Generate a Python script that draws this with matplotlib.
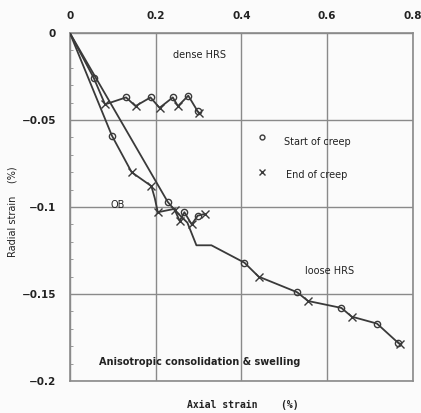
import matplotlib
matplotlib.use("Agg")
import matplotlib.pyplot as plt
from matplotlib.ticker import MultipleLocator

# dense HRS path (axial %, radial %), marker: o = start of creep, x = end of creep, "" = none
dense_x = [0.0, 0.056, 0.082, 0.131, 0.153, 0.188, 0.209, 0.240, 0.252, 0.276, 0.298, 0.302]
dense_y = [0.0, -0.026, -0.041, -0.037, -0.042, -0.037, -0.043, -0.037, -0.042, -0.036, -0.045, -0.046]
dense_m = ["", "o", "x", "o", "x", "o", "x", "o", "x", "o", "o", "x"]

# OB path
ob_x = [0.0, 0.098, 0.144, 0.190, 0.198, 0.205, 0.245]
ob_y = [0.0, -0.059, -0.080, -0.088, -0.095, -0.103, -0.101]
ob_m = ["", "o", "x", "x", "", "x", ""]

# loose HRS path
loose_x = [0.0, 0.228, 0.245, 0.274, 0.295, 0.330, 0.407, 0.440, 0.530, 0.555,
           0.633, 0.657, 0.716, 0.765, 0.770]
loose_y = [0.0, -0.097, -0.102, -0.109, -0.122, -0.122, -0.132, -0.140, -0.149, -0.154,
           -0.158, -0.163, -0.167, -0.178, -0.179]
loose_m = ["", "o", "x", "", "", "", "o", "x", "o", "x", "o", "x", "o", "o", "x"]

# creep cycles on the loose specimen
cyc_x = [0.245, 0.256, 0.267, 0.284, 0.298, 0.314]
cyc_y = [-0.102, -0.108, -0.103, -0.110, -0.105, -0.104]
cyc_m = ["", "x", "o", "x", "o", "x"]

x_ticks = [0, 0.2, 0.4, 0.6, 0.8]
x_labels = ["0", "0.2", "0.4", "0.6", "0.8"]
y_ticks = [0, -0.05, -0.1, -0.15, -0.2]
y_labels = ["0", "\u22120.05", "\u22120.1", "\u22120.15", "\u22120.2"]

INK = "#3a3a3a"
GRID = "#8a8a8a"

fig = plt.figure(figsize=(4.21, 4.13), dpi=100)
fig.patch.set_facecolor("#fbfbfb")
ax = fig.add_axes([0.166, 0.0775, 0.815, 0.8425])
ax.set_facecolor("#fbfbfb")


def draw_path(xs, ys, ms):
    ax.plot(xs, ys, color=INK, lw=1.3, zorder=3)
    for x, y, m in zip(xs, ys, ms):
        if m == "o":
            ax.plot(x, y, "o", ms=4.5, mfc="none", mec=INK, mew=1.0, zorder=4)
        elif m == "x":
            ax.plot(x, y, "x", ms=5.5, color=INK, mew=1.0, zorder=4)


draw_path(dense_x, dense_y, dense_m)
draw_path(ob_x, ob_y, ob_m)
draw_path(loose_x, loose_y, loose_m)
draw_path(cyc_x, cyc_y, cyc_m)

ax.set_xlim(0, 0.8)
ax.set_ylim(-0.2, 0)
ax.xaxis.tick_top()
ax.set_xticks(x_ticks)
ax.set_xticklabels(x_labels)
ax.set_yticks(y_ticks)
ax.set_yticklabels(y_labels)
ax.yaxis.set_minor_locator(MultipleLocator(0.01))
ax.tick_params(which="major", length=0, labelsize=7.5, colors="#222222")
ax.tick_params(which="major", axis="x", pad=9)
ax.tick_params(which="major", axis="y", pad=10)
ax.tick_params(which="minor", axis="y", direction="in", length=2, color=GRID)
for lab in ax.get_xticklabels() + ax.get_yticklabels():
    lab.set_fontweight("bold")
ax.grid(True, which="major", color=GRID, lw=1.0)
for s in ax.spines.values():
    s.set_color(GRID)
    s.set_linewidth(1.2)

ax.set_xlabel("Axial strain    (%)", fontsize=7, fontweight="bold", color="#222222",
              family="DejaVu Sans Mono")
ax.xaxis.set_label_position("bottom")
ax.xaxis.set_label_coords(0.504, -0.055)
ax.set_ylabel("Radial strain    (%)", fontsize=7, color="#222222")
ax.yaxis.set_label_coords(-0.152, 0.486)

txt = dict(fontsize=7, color="#222222", ha="center", va="center")
ax.text(0.302, -0.0126, "dense HRS", **txt)
ax.text(0.112, -0.099, "OB", **txt)
ax.text(0.605, -0.137, "loose HRS", **txt)
ax.text(0.302, -0.189, "Anisotropic consolidation & swelling", fontweight="bold", **txt)

# legend drawn inside the plot
ax.plot(0.447, -0.060, "o", ms=3.5, mfc="none", mec=INK, mew=1.0)
ax.plot(0.447, -0.080, "x", ms=5, color=INK, mew=1.0)
ax.text(0.5, -0.0628, "Start of creep", fontsize=7, color="#222222", va="center")
ax.text(0.505, -0.0815, "End of creep", fontsize=7, color="#222222", va="center")

fig.savefig("out.png", dpi=100, facecolor=fig.get_facecolor())
